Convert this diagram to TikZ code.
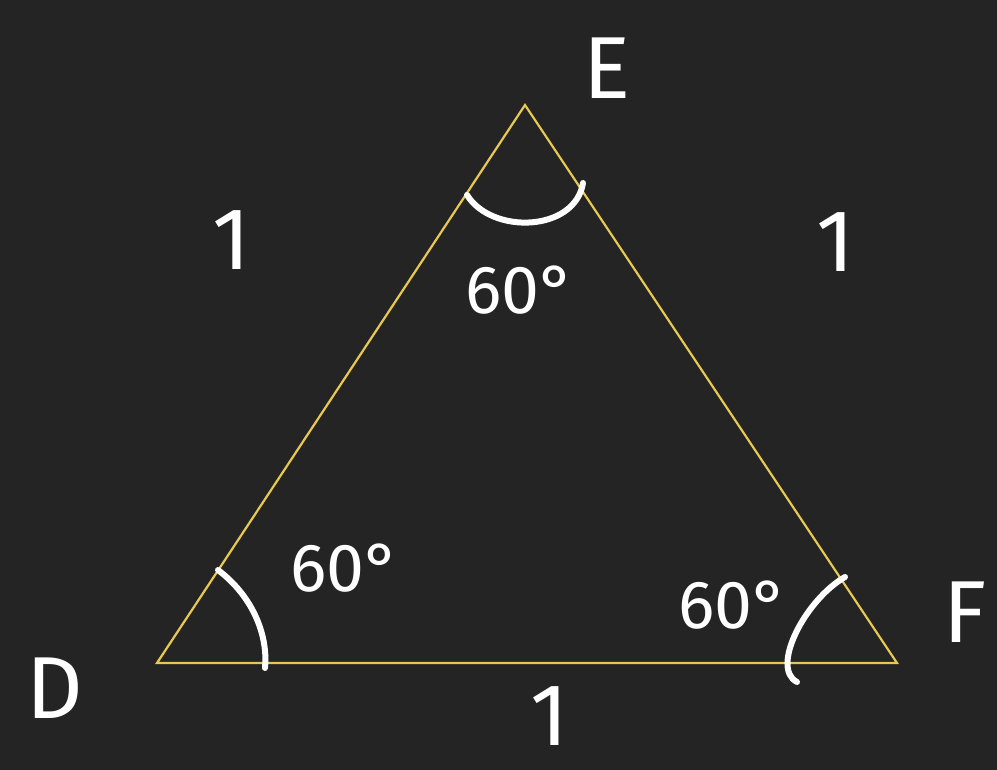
\documentclass[tikz,border=0pt]{standalone}
\usepackage{fontspec}
\setmainfont{Fira Sans}
\definecolor{board}{RGB}{36,36,36}
\definecolor{tri}{RGB}{232,200,80}
\tikzset{
  chalk/.style={draw=white,line width=6pt,line cap=round},
  lbl/.style={text=white,inner sep=0pt,font=\fontsize{68}{68}\selectfont},
  big/.style={text=white,inner sep=0pt,font=\fontsize{88}{88}\selectfont},
  edge/.style={draw=tri,line width=2.2pt,line join=miter}
}
\begin{document}
\begin{tikzpicture}[x=1pt,y=-1pt]
\fill[board] (0,0) rectangle (997,770);
\useasboundingbox (0,0) rectangle (997,770);
\coordinate (D) at (157,663);
\coordinate (E) at (525,105);
\coordinate (F) at (897,663);
\draw[edge] (D) -- (E) -- (F) -- cycle;
% angle arcs
\coordinate (ea1) at (467,195);
\coordinate (ea2) at (583,183);
\draw[chalk] (ea1) .. controls (492,235) and (575,232) .. (ea2);
\coordinate (da1) at (218,570);
\coordinate (da2) at (265,668);
\draw[chalk] (da1) .. controls (255,598) and (268,638) .. (da2);
\coordinate (fa1) at (845,577);
\coordinate (fa2) at (797,682);
\draw[chalk] (fa1) .. controls (805,600) and (770,668) .. (fa2);
% vertex labels
\node[big] (lE) at (607,68) {E};
\node[big] (lD) at (55,688) {D};
\node[big] (lF) at (965,612) {F};
% side labels
\node[big] (s1) at (232,240) {1};
\node[big] (s2) at (836,242) {1};
\node[big] (s3) at (550,716) {1};
% angle labels
\node[lbl] (aE) at (520,290) {60°};
\node[lbl] (aD) at (345,568) {60°};
\node[lbl] (aF) at (733,605) {60°};
\end{tikzpicture}
\end{document}
